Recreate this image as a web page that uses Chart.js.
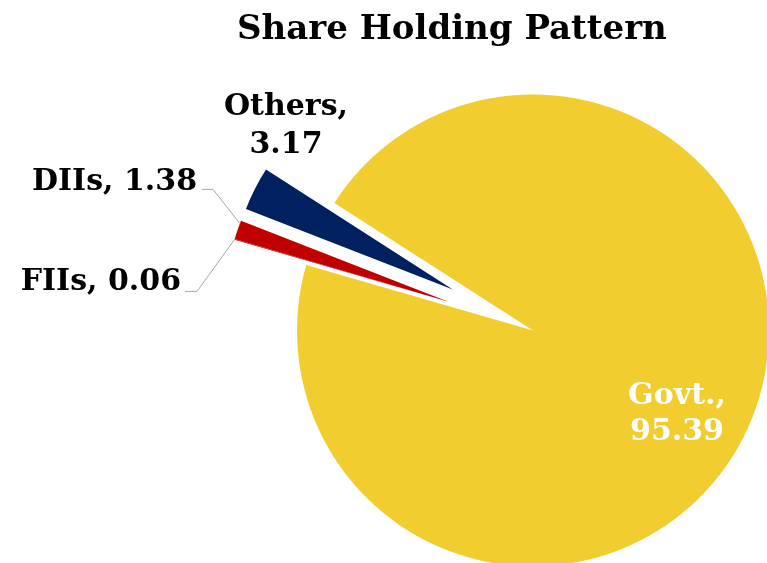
<!DOCTYPE html>
<html>
<head>
<meta charset="utf-8">
<script src="https://cdn.jsdelivr.net/npm/chart.js@4.4.1/dist/chart.umd.min.js"></script>
<style>
  body { margin: 0; overflow: hidden; background: #fff; }
  #wrap { position: relative; width: 829px; height: 610px; }
</style>
</head>
<body>
<div id="wrap"><canvas id="myChart"></canvas></div>
<script>
// data
const categories = ['Govt.', 'FIIs', 'DIIs', 'Others'];
const holdings = [95.39, 0.06, 1.38, 3.17];

const FONT = '"DejaVu Serif", serif';

// label text positions, relative to the pie centre
const labelSpots = {
    'Govt.': { dx: 144, dy: 66, gap: 36, align: 'center', color: '#fff', split: true },
    'Others': { dx: -247, dy: -223, gap: 38, align: 'center', color: '#000', split: true },
    'DIIs': { dx: -336, dy: -148, align: 'right', color: '#000', lead: [[-331, -141], [-320, -141]], frac: 0.85 },
    'FIIs': { dx: -352, dy: -48, align: 'right', color: '#000', lead: [[-348, -39], [-336, -39]], frac: 0.5 }
};

// pulls the small slices out (excel style explosion). chart.js "offset" also
// narrows thin slices, so the arcs are moved here instead.
// a slice can borrow another slice's direction so the tiny FIIs sliver stays flush with DIIs
const explodeSlices = {
    id: 'explodeSlices',
    afterDatasetUpdate(chart, args) {
        const ds = chart.data.datasets[args.index];
        const arcs = args.meta.data;
        const dirs = arcs.map(a => (a.startAngle + a.endAngle) / 2);
        arcs.forEach((arc, i) => {
            const d = ds.explode[i] || 0;
            if (!d) return;
            const mid = dirs[ds.explodeAlong[i]];
            arc.x += Math.cos(mid) * d;
            arc.y += Math.sin(mid) * d;
            arc.outerRadius = ds.explodeRadius;
        });
    }
};

// draws the data labels and the leader lines
const sliceLabels = {
    id: 'sliceLabels',
    afterDatasetsDraw(chart) {
        const ctx = chart.ctx;
        const meta = chart.getDatasetMeta(0);
        const cx = meta.data[0].x, cy = meta.data[0].y;
        ctx.save();
        ctx.font = 'bold 30px ' + FONT;
        ctx.textBaseline = 'middle';
        meta.data.forEach((arc, i) => {
            const name = categories[i];
            const spot = labelSpots[name];
            ctx.fillStyle = spot.color;
            ctx.textAlign = spot.align;
            const val = holdings[i].toFixed(2);
            if (spot.split) {
                ctx.fillText(name + ',', cx + spot.dx, cy + spot.dy);
                ctx.fillText(val, cx + spot.dx, cy + spot.dy + spot.gap);
            } else {
                ctx.fillText(name + ', ' + val, cx + spot.dx, cy + spot.dy);
            }
            if (spot.lead) {
                const a = arc.startAngle + (arc.endAngle - arc.startAngle) * spot.frac;
                const ex = arc.x + Math.cos(a) * arc.outerRadius;
                const ey = arc.y + Math.sin(a) * arc.outerRadius;
                ctx.strokeStyle = '#A6A6A6';
                ctx.lineWidth = 1;
                ctx.beginPath();
                ctx.moveTo(cx + spot.lead[0][0], cy + spot.lead[0][1]);
                ctx.lineTo(cx + spot.lead[1][0], cy + spot.lead[1][1]);
                ctx.lineTo(ex, ey);
                ctx.stroke();
            }
        });
        ctx.restore();
    }
};

new Chart(document.getElementById('myChart'), {
    type: 'pie',
    data: {
        labels: categories,
        datasets: [{
            data: holdings,
            backgroundColor: ['#F2CD30', '#C00000', '#C00000', '#002060'],
            borderWidth: 0,
            explode: [0, 90, 90, 90],
            explodeAlong: [0, 2, 2, 3],
            explodeRadius: 222
        }]
    },
    options: {
        responsive: true,
        maintainAspectRatio: false,
        animation: false,
        rotation: 302.7,
        radius: 236,
        layout: { padding: { left: 237, right: 0, top: 0, bottom: 0 } },
        plugins: {
            legend: { display: false },
            tooltip: { enabled: false },
            title: {
                display: true,
                text: 'Share Holding Pattern',
                align: 'start',
                color: '#000',
                font: { family: FONT, size: 34, weight: 'bold' },
                padding: { top: 10, bottom: 0 }
            }
        }
    },
    plugins: [explodeSlices, sliceLabels]
});
</script>
</body>
</html>
